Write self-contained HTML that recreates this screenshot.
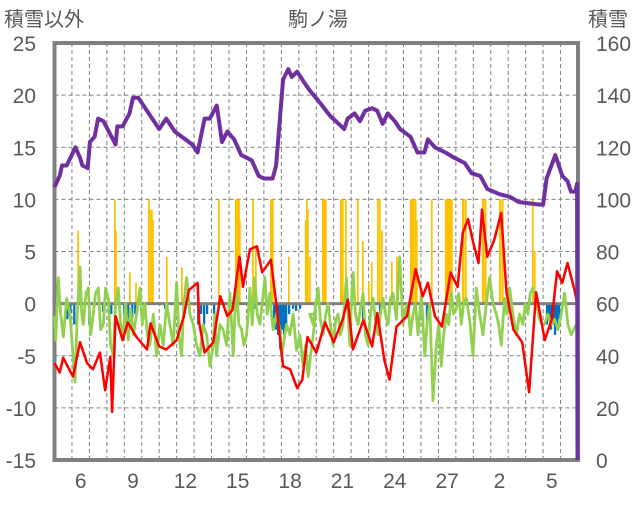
<!DOCTYPE html>
<html><head><meta charset="utf-8"><style>
body{margin:0;background:#fff;}
svg text{font-family:"Liberation Sans","Noto Sans CJK JP",sans-serif;fill:#595959;}
</style></head><body>
<svg id="chart" width="636" height="501" viewBox="0 0 636 501" xmlns="http://www.w3.org/2000/svg">
<text x="4" y="26" font-size="20">積雪以外</text>
<text x="318" y="26" font-size="20" text-anchor="middle">駒ノ湯</text>
<text x="588" y="26" font-size="20">積雪</text>
<g id="grid"></g>
<g id="bars"></g>
<g id="lines"></g>
<g id="axes"></g>
</svg>
<script>
const leftTicks=[25,20,15,10,5,0,-5,-10,-15];
const rightTicks=[160,140,120,100,80,60,40,20,0];
const xLabels=["6","9","12","15","18","21","24","27","2","5"];
const xLabelDays=[1,4,7,10,13,16,19,22,25,28];
const snowT=[0,0.3,0.43,0.7,1.06,1.2,1.46,1.6,1.9,2.03,2.3,2.5,2.8,3.5,3.6,3.9,4.3,4.5,4.8,5.3,6.0,6.4,6.9,7.9,8.2,8.6,8.9,9.3,9.6,9.9,10.3,10.7,11.3,11.7,12.0,12.5,12.7,13.1,13.4,13.6,13.9,14.3,14.6,15.1,15.8,16.6,16.8,17.2,17.5,17.8,18.2,18.5,18.8,19.1,19.5,19.8,20.4,20.8,21.2,21.4,21.8,22.4,22.9,23.5,23.9,24.4,24.8,25.5,26.1,26.6,27.8,28.0,28.2,28.7,29.1,29.4,29.6,29.85,29.95,29.97];
const snowV=[104.7,109,113,113,118,120,116,113,112,122,124,131,130,121,128,128,133,139,139,134,127,131,126,121,118,131,131,136,122,126,123,117,115,109,108,108,113,146,150,147,149,145,142,138,132,127,131,133,130,134,135,134,129,133,130,127,124,118,118,123,120,118,116,114,110,109,104,102,101,99,98,98,108,117,109,107,103,103,106,0];
const redT=[0,0.3,0.5,1.06,1.46,1.86,2.2,2.6,2.9,3.2,3.3,3.5,3.9,4.2,4.7,5.3,5.5,6.0,6.4,7.0,7.4,7.7,8.2,8.3,8.6,9.1,9.5,9.9,10.2,10.6,10.8,11.2,11.6,11.9,12.4,12.7,13.1,13.5,13.9,14.2,14.5,15.0,15.5,16.0,16.5,16.8,17.1,17.7,18.2,18.5,18.9,19.2,19.6,20.2,20.7,21.1,21.4,21.8,22.2,22.7,23.1,23.4,23.7,24.0,24.3,24.5,24.8,25.2,25.6,25.9,26.3,26.8,27.2,27.6,28.1,28.5,28.8,29.1,29.4,29.8,29.95];
const redV=[-5.7,-6.6,-5.2,-7.0,-3.7,-5.7,-6.3,-4.7,-8.3,-5.1,-10.4,-1.2,-3.5,-1.8,-3.2,-4.4,-1.9,-4.1,-4.4,-3.5,-1.3,1.3,2.0,-1.9,-4.7,-3.7,0.7,-1.2,-0.6,4.5,1.6,5.2,5.5,3.0,4.2,0.1,-6.0,-6.3,-8.1,-7.3,-3.2,-4.7,-1.8,-3.7,-1.6,0.4,-4.4,-1.6,-4.1,-0.9,-5.4,-7.3,-2.2,-1.2,3.3,0.7,2.0,-1.2,-2.2,3.0,1.6,6.8,8.1,5.8,3.9,9.0,4.5,6.1,8.7,1.1,-2.5,-3.7,-8.5,1.1,-3.5,-1.5,3.1,2.0,3.9,1.3,0.1];
const greenZoomA=[10,17,25,32,40,50,60,67,75,82,90,95,100,108,115,122,130,137,145,152,160,167,175,182,190,197,205,212,220,227,235,242,250,260,270,277,285,292,300,310,320,330,340,350,360,370,380,387,395,402,410,420,430,440,450,460,470,480,490,495,500,510,520,530,540,545,550,555,560,567,575,582,590,595,600,607,615,622,630,637,645,652,660,665,670,680,690,695,700,710,720,730,740,750,760,767,775,782,790,797];
const greenVA=[-1.2,-3.5,2.5,-1,-3.2,0.5,-1,-4,-7.5,-1,3.5,-1,-2,1,1.5,-3,-1,1,1.5,-2.5,-2,1.5,0.5,-4,-5,0,1.5,-2,-3,0,-3.5,-0.5,-3,-1,1.5,-2,0,-3,-4,-1,-5,-2,-4,0,-2,-4,2.0,-3,-5,0,2.5,-1,-2,-4,-5,-2,-3,-6,-4,-1,-5,-2,-2.5,-4,1,-2,-5,-1,1.5,-2,-2.5,-4,-3,-1,1.5,-2,2.5,-1,-2,0,2.5,-1,1,-1,-2.5,-1,-2.5,-5,-4,-2,-3,-1,-4.5,-3,-6,-4,-7,-5,-3,-1];
const greenZoomB=[0,10,18,25,32,40,48,55,62,70,78,85,92,100,110,115,120,125,130,137,145,152,160,167,175,182,190,197,205,212,220,227,235,242,250,260,270,280,287,295,302,310,317,325,335,345,352,360,370,380,387,395,402,410,417,425,432,440,447,455,462,470,480,490,500,510,520,530,540,550,560,567,575,585,592,600,610,620,630,640,647,655,662,670,680,690,697,705,715,725,735,745,755,765,775,785,800];
const greenVB=[-1,-2,0,1.5,-1.5,-3,-1,0,-2,-4,-1.5,-1,-3,-2,2.5,-1,-4,0,3,-1,-2,-0.5,1,-3,-4,-1,0.5,-1.5,-3,-1,0.5,-1,-2,0.5,1,-1.5,4.5,-2,-0.5,0,-3,-1,0,-3,1.0,-5,-2,0,-9.3,-4,-2,-6,-3,-1,-2,1,-1,-0.5,1,-2,0,0.5,-1.5,-5,1.5,-1,-3,0,2.5,0,-1,-2,-4,0.5,-1,1.5,-1,-3,-1,-2,0,-1,1,1.5,0,-1.5,-2,-2,-1,-2,-1.5,-2.5,-1,1.0,-2,-3,-2];
const yellowT=[1.35,1.40,3.46,3.52,4.32,4.67,5.41,5.47,5.58,5.64,6.44,7.30,9.42,10.39,10.45,10.51,10.57,10.62,11.37,11.54,12.40,12.46,12.51,13.43,14.40,14.46,14.52,14.63,15.38,15.43,15.49,15.55,16.41,16.47,16.52,16.70,17.38,17.67,18.01,18.18,18.53,18.64,18.76,19.33,19.62,20.42,20.47,20.53,20.59,20.70,20.76,21.62,22.42,22.48,22.54,22.59,22.65,22.71,22.77,23.40,23.45,23.57,24.54,24.60,24.71,25.52,25.57,25.69,27.41,27.52];
const yellowV=[7,3,10,7,3,2,10,9,9,8,4.5,3.5,10,10,10,10,10,8,10,5.5,10,10,10,4.5,8,10,9,4.5,10,10,10,10,10,10,10,10,10,6,2,4,10,10,7,4,4.5,10,10,10,10,10,8,10,10,10,10,10,10,10,10,10,10,10,10,10,10,10,10,10,10,5];
const blueT=[0.03,0.32,0.72,0.89,1.12,1.98,2.78,3.24,3.98,4.21,4.44,4.61,6.33,8.22,8.39,8.56,8.73,9.13,11.43,12.57,12.69,12.80,12.91,13.03,13.14,13.26,13.43,13.66,13.83,14.06,16.81,17.67,18.64,21.33,28.21,28.32,28.44,28.55,28.67,28.78,28.90];
const blueV=[-1,-0.8,-1.5,-1,-2,-2,-0.8,-1,-1,-1.5,-1.5,-1,-0.5,-2,-1,-2,-1,-1,-0.5,-1.5,-2.5,-3,-4.4,-2.5,-3,-2,-1,-0.5,-0.7,-0.5,-0.7,-1.5,-1,-2,-2,-1.5,-2.5,-2,-3,-2,-1.5];

const X0=54.5,X1=578,Y0=460,Y1=43,NDAYS=30;
const xS=t=>X0+(X1-X0)*t/NDAYS;
const yL=v=>Y0-(v+15)/40*(Y0-Y1);
const yR=v=>Y0-v/160*(Y0-Y1);
const NS="http://www.w3.org/2000/svg";
function mk(tag,parent,attrs){const e=document.createElementNS(NS,tag);for(const k in attrs)e.setAttribute(k,attrs[k]);parent.appendChild(e);return e;}
const grid=document.getElementById('grid'),bars=document.getElementById('bars'),lines=document.getElementById('lines'),axes=document.getElementById('axes');
for(let d=1;d<NDAYS;d++){const l=mk('line',grid,{x1:xS(d),x2:xS(d),y1:Y1,y2:Y0,stroke:'#808080','stroke-width':1,'stroke-dasharray':'4,3'});

}
leftTicks.forEach(v=>{const y=yL(v);
if(v!==25&&v!==-15&&v!==0){const l=mk('line',grid,{x1:X0,x2:X1,y1:y,y2:y,stroke:'#808080','stroke-width':1,'stroke-dasharray':'4,3'});

}
const t=mk('text',axes,{x:36,y:y+8,'font-size':21,'text-anchor':'end'});t.textContent=v;

});
rightTicks.forEach(v=>{const t=mk('text',axes,{x:596,y:yR(v)+8,'font-size':21});t.textContent=v;

});
xLabels.forEach((s,i)=>{const t=mk('text',axes,{x:xS(xLabelDays[i]+0.5),y:488,'font-size':21,'text-anchor':'middle'});t.textContent=s;

});
const bw=(X1-X0)/NDAYS*0.1;
yellowT.forEach((t,i)=>{const y=yL(yellowV[i]);const r=mk('rect',bars,{x:xS(t)-bw/2,y:y,width:bw,height:yL(0)-y,fill:'#FFC000'});

});
blueT.forEach((t,i)=>{const r=mk('rect',bars,{x:xS(t)-bw/2,y:yL(0),width:bw*1.3,height:yL(blueV[i])-yL(0),fill:'#0070C0'});

});
const zl=mk('line',bars,{x1:X0,x2:X1,y1:yL(0),y2:yL(0),stroke:'#808080','stroke-width':3});


function path(ts,vs,ys){return ts.map((t,i)=>(i?'L':'M')+xS(t).toFixed(1)+','+ys(vs[i]).toFixed(1)).join('');}
const gTA=greenZoomA.map(z=>Math.max(0,(z/3-4.5)/17.46));
const gTB=greenZoomB.map(z=>14.63+z/52.4);
const gp=mk('path',lines,{d:path(gTA.concat(gTB),greenVA.concat(greenVB),yL),fill:'none',stroke:'#92D050','stroke-width':2.8,'stroke-linejoin':'round'});


const rp=mk('path',lines,{d:path(redT,redV,yL),fill:'none',stroke:'#FF0000','stroke-width':2.5,'stroke-linejoin':'round'});


const fr=mk('path',axes,{d:`M${X0},${Y0}V${Y1}H${X1}V${Y0}Z`,fill:'none',stroke:'#808080','stroke-width':4});


const sp=mk('path',lines,{d:path(snowT,snowV,yR),fill:'none',stroke:'#7030A0','stroke-width':4,'stroke-linejoin':'round'});


lines.parentNode.appendChild(lines);
</script>
</body></html>
